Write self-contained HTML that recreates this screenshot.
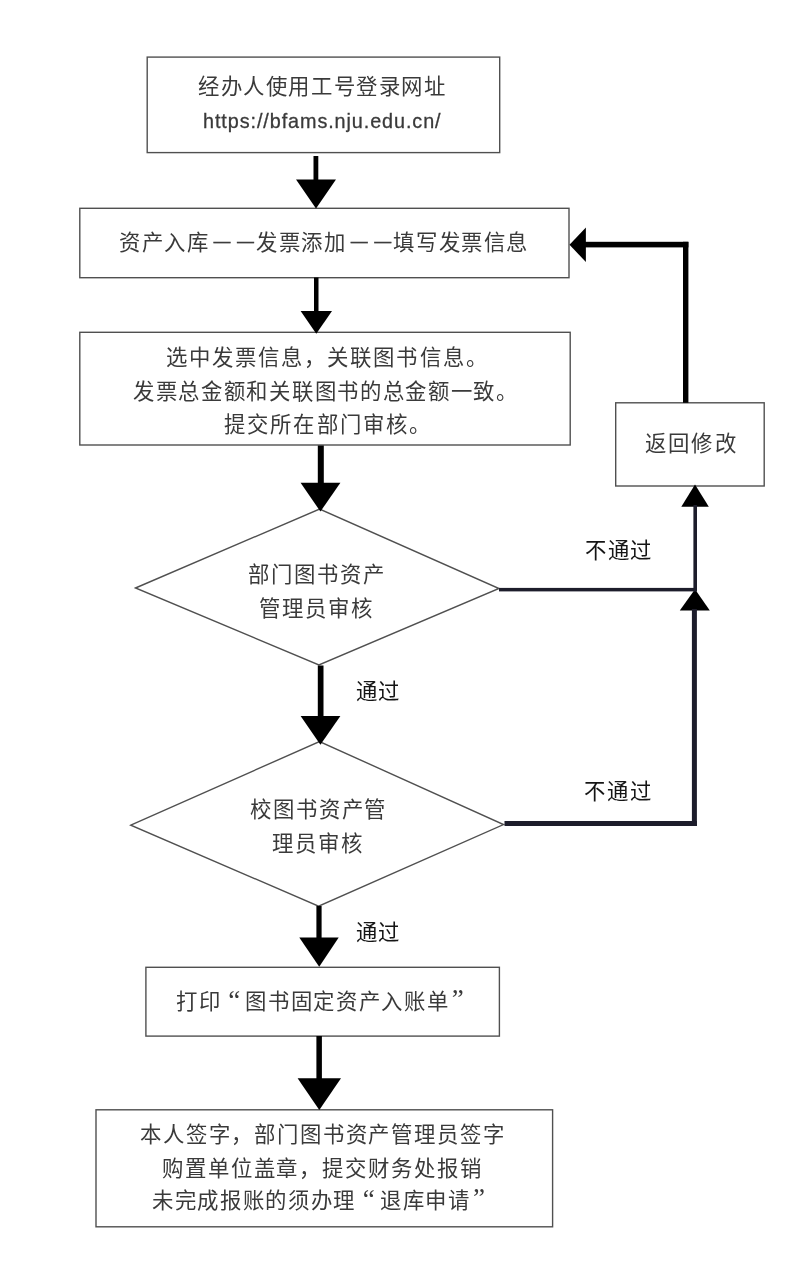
<!DOCTYPE html>
<html lang="zh-CN">
<head>
<meta charset="utf-8">
<title>图书固定资产入账流程</title>
<style>
html,body{margin:0;padding:0;background:#fff;}
body{width:799px;height:1268px;position:relative;overflow:hidden;
  font-family:"Liberation Sans",sans-serif;color:#3a3a3a;}
#art{position:absolute;left:0;top:0;width:799px;height:1268px;}
.t{will-change:transform;position:absolute;white-space:nowrap;font-size:21.4px;line-height:24px;letter-spacing:0.6px;}
.url{font-size:19.8px;-webkit-text-stroke:0.3px #3a3a3a;}
.d{display:inline-block;width:26.5px;text-align:center;letter-spacing:0;font-size:17px;position:relative;top:-3.2px;left:-0.7px;-webkit-text-stroke:0.35px #3a3a3a;}
.d2{width:20.3px;left:-0.6px;}
.q{display:inline-block;width:24px;text-align:center;letter-spacing:0;font-family:"Liberation Serif",serif;font-size:27px;line-height:24px;position:relative;top:-0.1px;left:0.8px;}
.q2{width:15.2px;text-align:right;left:-1px;top:-0.6px;}
.lb{color:#151515;letter-spacing:0.2px;}
</style>
</head>
<body>
<svg id="art" width="799" height="1268" viewBox="0 0 799 1268">
  <g fill="#fff" stroke="#505050" stroke-width="1.4">
    <rect x="147.2" y="57.1" width="352.5" height="95.5"/>
    <rect x="79.8" y="208.3" width="489.2" height="69.4"/>
    <rect x="79.8" y="332.3" width="490.4" height="112.7"/>
    <rect x="615.7" y="402.8" width="148.5" height="83.2"/>
    <polygon points="135.5,588 319.6,509 499,588.5 318.9,665"/>
    <polygon points="130.8,825.2 319.5,741.5 503.5,824.6 318.6,906.2"/>
    <rect x="145.9" y="967.3" width="353.5" height="68.8"/>
    <rect x="96" y="1109.8" width="456.6" height="117"/>
  </g>
  <g fill="#000" stroke="none">
    <!-- arrow 1 -->
    <rect x="313.5" y="156" width="4.8" height="26"/>
    <polygon points="296,179.6 336,179.6 316,208.6"/>
    <!-- arrow 2 -->
    <rect x="314" y="277.5" width="4.5" height="35"/>
    <polygon points="300.6,311 332,311 316.3,333.8"/>
    <!-- arrow 3 -->
    <rect x="317.8" y="445.5" width="6" height="40"/>
    <polygon points="300.6,482.8 340.4,482.8 320.4,511.6"/>
    <!-- arrow 4 -->
    <rect x="317.8" y="665.5" width="5.7" height="53"/>
    <polygon points="300.6,716 340.4,716 320.4,744.8"/>
    <!-- arrow 5 -->
    <rect x="316.4" y="906" width="5.2" height="34"/>
    <polygon points="299.3,937.4 338.7,937.4 319.2,966.8"/>
    <!-- arrow 6 -->
    <rect x="316.4" y="1036" width="5.5" height="46"/>
    <polygon points="297.6,1078.3 341,1078.3 319.3,1110"/>
    <!-- return line to box 2 -->
    <polygon points="569.5,244.8 585.9,227.6 585.9,262"/>
    <rect x="584" y="241.8" width="104.4" height="5.6"/>
    <rect x="683" y="241.8" width="5.4" height="161"/>
    <!-- up arrow into return box -->
    <polygon points="695,484.6 681.3,506.8 708.8,506.8"/>
    <polygon points="695,589.2 679.8,610.4 709.8,610.4"/>
  </g>
  <g fill="#1d1d2b" stroke="none">
    <rect x="693.4" y="505" width="3.6" height="86.4"/>
    <rect x="499" y="587.9" width="198" height="3.5"/>
    <rect x="691.9" y="609" width="5" height="217"/>
    <rect x="504.5" y="821" width="192.4" height="5"/>
  </g>
</svg>

<div class="t" style="left:197.5px;top:75px;letter-spacing:1.60px;">经办人使用工号登录网址</div>
<div class="t url" style="left:203.2px;top:109.4px;letter-spacing:0.92px;">https://bfams.nju.edu.cn/</div>
<div class="t" style="left:118.5px;top:230.5px;letter-spacing:1.60px;">资产入库<span class="d">—</span><span class="d d2">—</span>发票添加<span class="d">—</span><span class="d d2">—</span>填写发票信息</div>
<div class="t" style="left:166px;top:346.3px;letter-spacing:2.05px;">选中发票信息，关联图书信息。</div>
<div class="t" style="left:133.2px;top:379.7px;letter-spacing:1.70px;">发票总金额和关联图书的总金额一致。</div>
<div class="t" style="left:224px;top:412.7px;letter-spacing:2.15px;">提交所在部门审核。</div>
<div class="t" style="left:644.8px;top:431.8px;letter-spacing:2.20px;">返回修改</div>
<div class="t" style="left:248px;top:563.1px;letter-spacing:2.05px;">部门图书资产</div>
<div class="t" style="left:259.2px;top:596.7px;letter-spacing:1.95px;">管理员审核</div>
<div class="t lb" style="left:584.6px;top:538.8px;letter-spacing:1.70px;">不通过</div>
<div class="t lb" style="left:355.5px;top:679.5px;letter-spacing:1.20px;">通过</div>
<div class="t" style="left:250px;top:798px;letter-spacing:1.90px;">校图书资产管</div>
<div class="t" style="left:272px;top:831.5px;letter-spacing:2.00px;">理员审核</div>
<div class="t lb" style="left:584.3px;top:779.9px;letter-spacing:1.90px;">不通过</div>
<div class="t lb" style="left:355.5px;top:920.5px;letter-spacing:1.20px;">通过</div>
<div class="t" style="left:176px;top:987.8px;letter-spacing:1.68px;">打印<span class="q">“</span>图书固定资产入账单<span class="q q2">”</span></div>
<div class="t" style="left:140.2px;top:1123.4px;letter-spacing:1.84px;">本人签字，部门图书资产管理员签字</div>
<div class="t" style="left:162.3px;top:1157px;letter-spacing:1.90px;">购置单位盖章，提交财务处报销</div>
<div class="t" style="left:152.4px;top:1187.4px;letter-spacing:1.67px;">未完成报账的须办理<span class="q">“</span>退库申请<span class="q q2">”</span></div>
</body>
</html>
